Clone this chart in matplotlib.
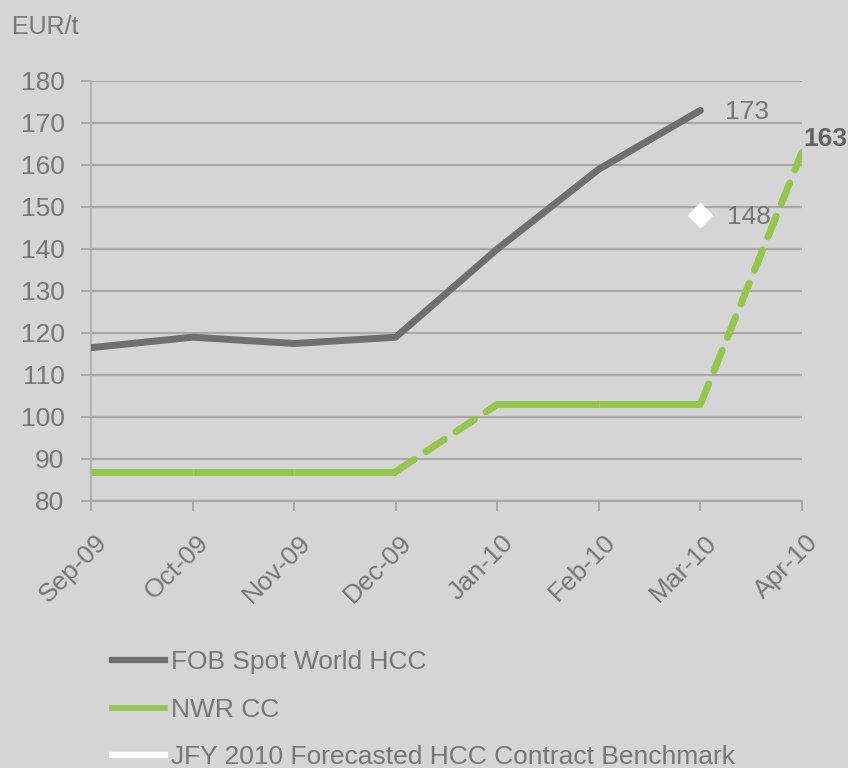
import matplotlib
matplotlib.use("Agg")
import matplotlib.pyplot as plt
import matplotlib.transforms as mtransforms
from matplotlib.lines import Line2D

months = ["Sep-09", "Oct-09", "Nov-09", "Dec-09", "Jan-10", "Feb-10", "Mar-10", "Apr-10"]
fob_spot = [116.5, 119, 117.5, 119, 140, 159, 173]
nwr_cc = [87, 87, 87, 87, 103, 103, 103, 163]
nwr_segment_dashed = [False, False, False, True, False, False, True]
jfy_month_index = 6
jfy_value = 148
y_ticks = [80, 90, 100, 110, 120, 130, 140, 150, 160, 170, 180]

BG = "#d5d5d5"
GRID = "#a8a8a8"
TXT = "#767676"
GRAY = "#6f6f6f"
GREEN = "#93c64a"

plt.rcParams['font.family'] = ['Liberation Sans', 'DejaVu Sans']

fig = plt.figure(figsize=(8.48, 7.68), dpi=100, facecolor=BG)
ax = fig.add_axes([91/848, 1-501/768, (802-91)/848, (501-81)/768])
ax.set_facecolor(BG)

x = list(range(len(months)))

ax.set_ylim(80, 180)
ax.set_xlim(0, len(months)-1)
ax.set_yticks(y_ticks)
ax.set_xticks(x)
ax.set_xticklabels(months, rotation=45, ha='right', va='top', rotation_mode='anchor')
ax.yaxis.grid(True, color=GRID, lw=1.6)
ax.set_axisbelow(True)
for s in ['top', 'right']:
    ax.spines[s].set_visible(False)
ax.spines['left'].set_color("#b3b3b3")
ax.spines['left'].set_linewidth(1.6)
ax.spines['bottom'].set_color(GRID)
ax.spines['bottom'].set_linewidth(1.6)
ax.tick_params(axis='y', length=7, width=1.4, color=GRID, labelsize=19, labelcolor=TXT, pad=12)
ax.tick_params(axis='x', length=7, width=1.4, color=GRID, labelsize=19, labelcolor=TXT, pad=14)
offset = mtransforms.ScaledTranslation(4/100, 0, fig.dpi_scale_trans)
for lbl in ax.get_xticklabels():
    lbl.set_transform(lbl.get_transform() + offset)

# FOB line
ax.plot(x[:len(fob_spot)], fob_spot, color=GRAY, lw=5, solid_capstyle='round', zorder=3)

# NWR line segments
for i, dashed in enumerate(nwr_segment_dashed):
    ax.plot([x[i], x[i+1]], [nwr_cc[i], nwr_cc[i+1]], color=GREEN, lw=5,
            linestyle=(0, (3.2, 2.0)) if dashed else '-', solid_capstyle='butt',
            dash_capstyle='round', zorder=3)

# JFY benchmark
ax.plot([x[jfy_month_index]], [jfy_value], marker='D', markersize=12, color='white',
        linestyle='none', zorder=4, clip_on=False)

# value labels
ax.annotate(f"{fob_spot[-1]:.0f}", (x[len(fob_spot)-1], fob_spot[-1]), xytext=(18, -1),
            textcoords='offset points', color=TXT, fontsize=19, va='center', ha='left')
ax.annotate(f"{nwr_cc[-1]:.0f}", (x[-1], nwr_cc[-1]), xytext=(1, 10),
            textcoords='offset points', color="#626262", fontsize=19, fontweight='bold',
            va='center', ha='left', annotation_clip=False)
ax.annotate(f"{jfy_value:.0f}", (x[jfy_month_index], jfy_value), xytext=(19, -1),
            textcoords='offset points', color=TXT, fontsize=19, va='center', ha='left')

fig.text(12/848, 1-27/768, "EUR/t", fontsize=18, color=TXT, va='center', ha='left')

handles = [Line2D([], [], color=GRAY, lw=4.5),
           Line2D([], [], color=GREEN, lw=4),
           Line2D([], [], color='white', lw=4.5)]
labels = ["FOB Spot World HCC", "NWR CC", "JFY 2010 Forecasted HCC Contract Benchmark"]
leg = fig.legend(handles, labels, loc='upper left', bbox_to_anchor=(112/848, 1-650/768),
                 frameon=False, fontsize=19, handlelength=2.0, handletextpad=0.25,
                 labelspacing=0.9, borderpad=0, borderaxespad=0)
for t in leg.get_texts():
    t.set_color(TXT)

fig.savefig("out.png", dpi=100, facecolor=BG)
